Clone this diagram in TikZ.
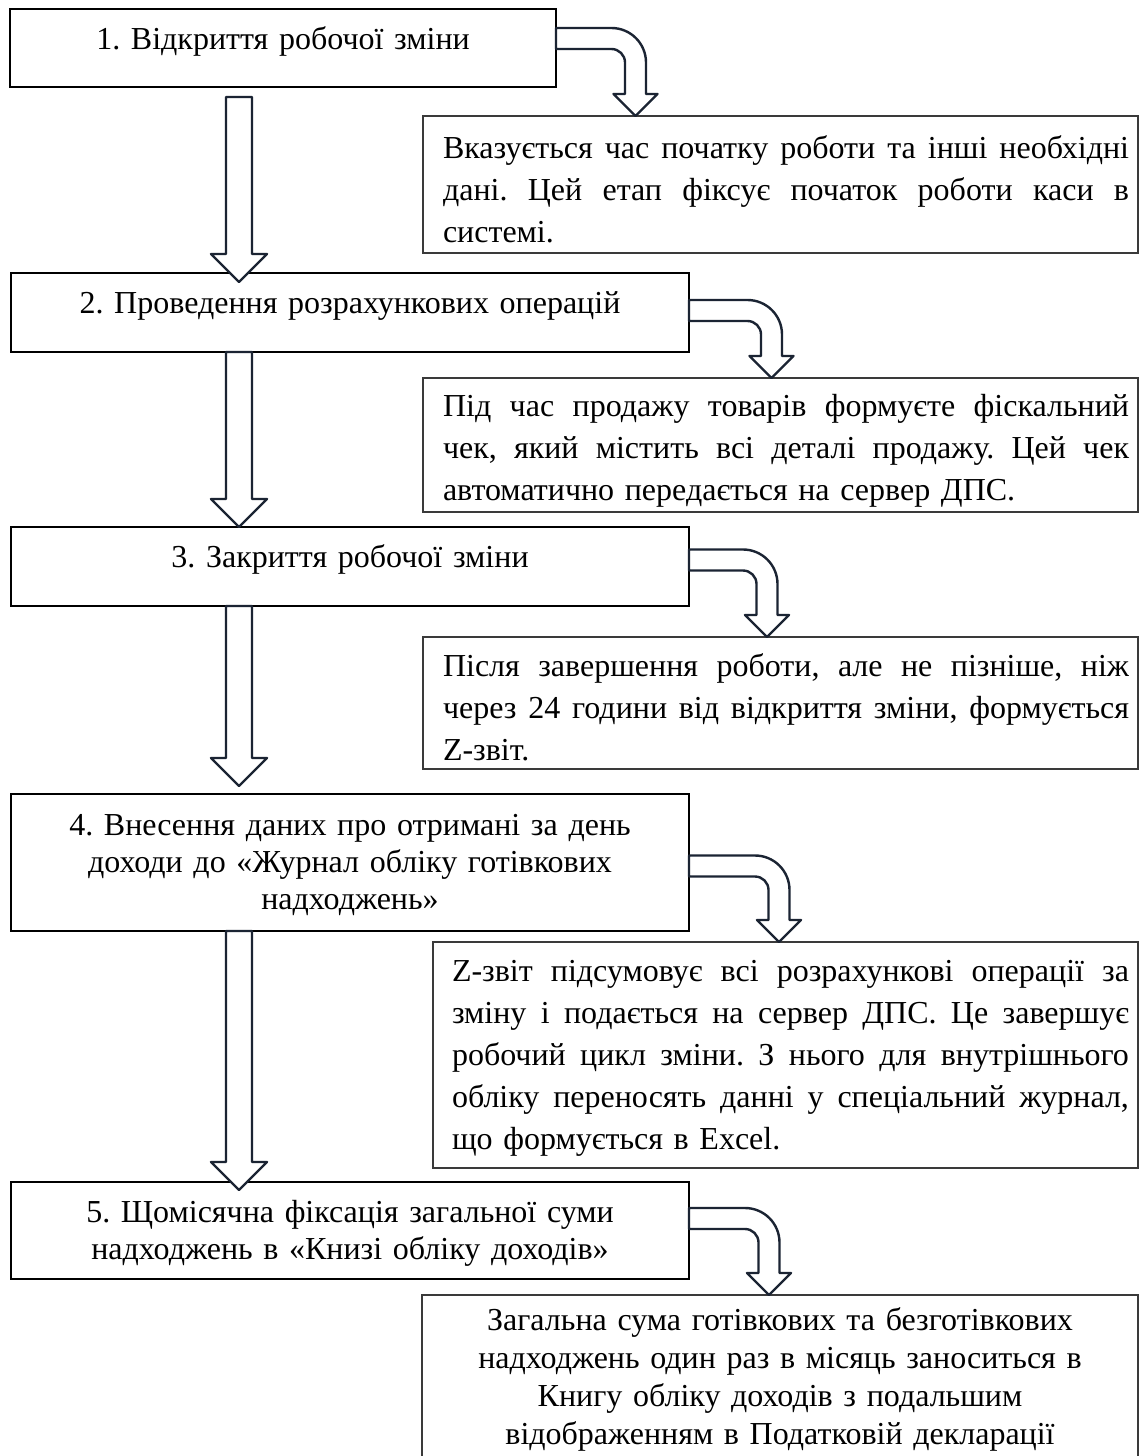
\documentclass[tikz,border=0pt]{standalone}
\usepackage{fontspec}
\setmainfont{Liberation Serif}
\usetikzlibrary{calc}
\definecolor{arrowc}{HTML}{1B2433}
\definecolor{rboxc}{HTML}{3A3A3A}
\tikzset{
 lbox/.style={draw=black, line width=0.7pt, anchor=north west, inner sep=0pt, outer sep=0pt},
 rbox/.style={draw=rboxc, line width=1pt, anchor=north west, inner sep=0pt, outer sep=0pt},
 ltext/.style={anchor=base, align=center, inner sep=0pt, text width=330pt, font=\fontsize{16pt}{18.5pt}\selectfont\frenchspacing},
 rtext/.style={anchor=base, align=left, inner sep=0pt, font=\fontsize{16pt}{21pt}\selectfont\frenchspacing},
 ctext/.style={anchor=base, align=center, inner sep=0pt, text width=350pt, font=\fontsize{16pt}{19pt}\selectfont\frenchspacing},
 blockarrow/.style={draw=arrowc, line width=1.2pt, fill=white, line join=round},
}
\newcommand\jl[2][343pt]{\leavevmode\hbox to #1{\spaceskip=0pt\xspaceskip=0pt\relax #2}}
\newcommand\vblockarrow[2]{%
 \draw[blockarrow] ($(#1)+(-13,0)$) -- ($(#2)+(-13,-28)$) -- ($(#2)+(-28,-28)$) -- (#2) -- ($(#2)+(28,-28)$) -- ($(#2)+(13,-28)$) -- ($(#1)+(13,0)$) -- cycle;}
\newcommand\bentarrow[3]{%
 \coordinate (#3) at (#1 -| #2);
 \draw[blockarrow] ($(#1)+(0,-10.5)$) -- ($(#3)+(-24,-10.5)$) arc[start angle=90,end angle=0,radius=17.25pt] -- ($(#2)+(10.5,-22)$) -- ($(#2)+(22,-22)$) -- (#2) -- ($(#2)+(-22,-22)$) -- ($(#2)+(-10.5,-22)$) -- ($(#3)+(-10.5,24)$) arc[start angle=0,end angle=90,radius=6.75pt] -- ($(#1)+(0,10.5)$) -- cycle;}
\begin{document}
\begin{tikzpicture}[x=0.5pt,y=-0.5pt]
\useasboundingbox[fill=white] (0,0) rectangle (1147,1456);
\clip (0,0) rectangle (1147,1456);
% boxes
\node[lbox, minimum width=273pt, minimum height=39pt] (b1) at (10,9) {};
\node[rbox, minimum width=357.5pt, minimum height=68.5pt] (d1) at (423,116) {};
\node[lbox, minimum width=339pt, minimum height=39.5pt] (b2) at (11,273) {};
\node[rbox, minimum width=357.5pt, minimum height=67pt] (d2) at (423,378) {};
\node[lbox, minimum width=339pt, minimum height=39.5pt] (b3) at (11,527) {};
\node[rbox, minimum width=357.5pt, minimum height=66pt] (d3) at (423,637) {};
\node[lbox, minimum width=339pt, minimum height=68.5pt] (b4) at (11,794) {};
\node[rbox, minimum width=352.5pt, minimum height=113pt] (d4) at (433,942) {};
\node[lbox, minimum width=339pt, minimum height=48.5pt] (b5) at (11,1182) {};
\node[rbox, minimum width=358pt, minimum height=110pt] (d5) at (422,1295) {};
% texts
\node[ltext, text width=270pt] (t1) at ($(b1.north)+(0,40)$) {1. Відкриття робочої зміни};
\node[rtext, text width=343pt] (e1) at ($(d1.north)+(5.5,42)$) {\jl{Вказується час початку роботи та інші необхідні}\\\jl{дані. Цей етап фіксує початок роботи каси в}\\системі.};
\node[ltext] (t2) at ($(b2.north)+(0,40)$) {2. Проведення розрахункових операцій};
\node[rtext, text width=343pt] (e2) at ($(d2.north)+(5.5,38)$) {\jl{Під час продажу товарів формуєте фіскальний}\\\jl{чек, який містить всі деталі продажу. Цей чек}\\автоматично передається на сервер ДПС.};
\node[ltext] (t3) at ($(b3.north)+(0,40)$) {3. Закриття робочої зміни};
\node[rtext, text width=343pt] (e3) at ($(d3.north)+(5.5,39)$) {\jl{Після завершення роботи, але не пізніше, ніж}\\\jl{через 24 години від відкриття зміни, формується}\\Z-звіт.};
\node[ltext] (t4) at ($(b4.north)+(0,41)$) {4. Внесення даних про отримані за день\\доходи до «Журнал обліку готівкових\\надходжень»};
\node[rtext, text width=338.5pt] (e4) at ($(d4.north)+(5,39)$) {\jl[338.5pt]{Z-звіт підсумовує всі розрахункові операції за}\\\jl[338.5pt]{зміну і подається на сервер ДПС. Це завершує}\\\jl[338.5pt]{робочий цикл зміни. З нього для внутрішнього}\\\jl[338.5pt]{обліку переносять данні у спеціальний журнал,}\\що формується в Excel.};
\node[ltext] (t5) at ($(b5.north)+(0,40)$) {5. Щомісячна фіксація загальної суми\\надходжень в «Книзі обліку доходів»};
\node[ctext] (e5) at ($(d5.north)+(0,35)$) {Загальна сума готівкових та безготівкових\\надходжень один раз в місяць заноситься в\\Книгу обліку доходів з подальшим\\відображенням в Податковій декларації};
% vertical arrows
\coordinate (v1s) at ($(b1.south west)+(229,10)$);
\coordinate (v1e) at ($(b2.north west)+(228,9)$);
\coordinate (v2s) at ($(b2.south west)+(228,0)$);
\coordinate (v2e) at ($(b3.north west)+(228,0)$);
\coordinate (v3s) at ($(b3.south west)+(228,0)$);
\coordinate (v3e) at ($(b4.north west)+(228,-8)$);
\coordinate (v4s) at ($(b4.south west)+(228,0)$);
\coordinate (v4e) at ($(b5.north west)+(228,8)$);
\vblockarrow{v1s}{v1e}
\vblockarrow{v2s}{v2e}
\vblockarrow{v3s}{v3e}
\vblockarrow{v4s}{v4e}
% bent arrows
\coordinate (c1s) at ($(b1.north east)+(0,29.5)$);
\coordinate (c1e) at ($(d1.north west)+(212.5,0)$);
\coordinate (c2s) at ($(b2.north east)+(0,37.5)$);
\coordinate (c2e) at ($(d2.north west)+(348.5,0)$);
\coordinate (c3s) at ($(b3.north east)+(0,33)$);
\coordinate (c3e) at ($(d3.north west)+(344,0)$);
\coordinate (c4s) at ($(b4.north east)+(0,72)$);
\coordinate (c4e) at ($(d4.north west)+(346,0)$);
\coordinate (c5s) at ($(b5.north east)+(0,36.5)$);
\coordinate (c5e) at ($(d5.north west)+(347,0)$);
\bentarrow{c1s}{c1e}{k1}
\bentarrow{c2s}{c2e}{k2}
\bentarrow{c3s}{c3e}{k3}
\bentarrow{c4s}{c4e}{k4}
\bentarrow{c5s}{c5e}{k5}
\end{tikzpicture}
\end{document}
